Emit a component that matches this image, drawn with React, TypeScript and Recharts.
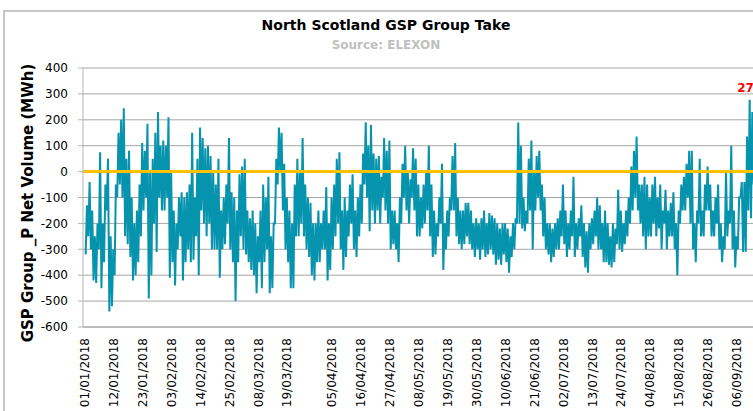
import { LineChart, Line, XAxis, YAxis, CartesianGrid, ReferenceLine, ReferenceDot } from 'recharts';

// daily highs / lows of the half-hourly GSP take (MWh), day 0 = 01/01/2018
const highs = [
  -130, -40, -150, -250, -200, 75, -200, -50, 50, -250,
  -300, -50, 150, 200, 245, 50, 80, -100, -200, -150,
  -50, 110, 80, 185, 0, 50, 150, 230, 100, 120,
  100, 210, 0, -150, -200, -100, -80, -100, -80, -50,
  150, -100, 50, 170, 130, 90, 100, 60, 0, -50,
  50, -150, -100, -50, 130, -80, -100, -150, -10, 20,
  50, -150, -180, -150, -200, -250, -150, -50, -100, -20,
  -250, -200, 50, 170, 150, 30, -100, -150, -200, -50,
  50, 0, 130, -50, -100, -120, -200, -200, -150, -200,
  -150, -60, -200, -100, -50, 50, 75, -150, -100, -150,
  -50, -10, -150, -100, -50, 70, 190, 100, 180, 70,
  50, 60, -20, 130, 80, 120, -150, -150, -200, -100,
  30, 100, 0, -30, 90, 50, -50, -100, -50, 0,
  100, -50, -150, -200, -100, 30, -200, -150, -100, 60,
  110, -100, -150, -150, -120, -120, -150, -200, -180, -200,
  -180, -150, -200, -160, -170, -180, -200, -220, -200, -200,
  -220, -250, -200, -180, 190, 100, -100, -150, 50, 120,
  0, 60, 80, -50, -100, -200, -200, -220, -200, -180,
  -150, -50, -150, -200, -150, -20, -200, -180, -130, -200,
  -230, -200, -180, -150, -100, -130, -200, -150, -200, -250,
  -200, -220, -70, -150, -200, -150, -100, 20, 80, 135,
  -50, -50, -20, -50, -100, -50, -20, -100, -50, -150,
  -70, -150, -120, -80, -200, -150, -50, -20, 30, 80,
  80, -200, -150, 50, -150, -50, 20, -50, -150, -100,
  -50, -200, -250, 0, -150, 100, -150, -250, -100, -40,
  -40, 135, 277, 230, 220,
];

const lows = [
  -320, -250, -300, -420, -430, -300, -450, -350, -150, -540,
  -520, -400, -100, -50, -100, -250, -280, -330, -420, -400,
  -350, -250, -150, -100, -490, -400, -200, -310, -100, -150,
  -150, -100, -410, -350, -440, -300, -250, -420, -350, -300,
  -350, -340, -250, -400, -150, -200, -250, -200, -300, -300,
  -300, -410, -300, -280, -200, -300, -350, -500, -350, -250,
  -300, -320, -350, -380, -400, -470, -350, -450, -350, -300,
  -470, -450, -200, -50, 0, -150, -300, -350, -450, -450,
  -250, -250, -200, -250, -300, -330, -400, -420, -350, -350,
  -300, -300, -420, -380, -300, -250, -200, -300, -380, -330,
  -250, -200, -300, -330, -250, -200, -50, -100, -230, -150,
  -200, -150, -200, -100, -150, -200, -300, -280, -300, -350,
  -200, -100, -150, -200, -100, -150, -250, -250, -220, -200,
  -150, -250, -330, -320, -250, -200, -380, -300, -250, -150,
  -150, -250, -280, -300, -280, -250, -280, -300, -330, -300,
  -340, -300, -330, -320, -300, -320, -360, -340, -360, -320,
  -350, -390, -330, -300, -200, -200, -220, -230, -200, -150,
  -300, -150, -100, -150, -250, -300, -320, -350, -330, -300,
  -300, -250, -280, -330, -300, -250, -330, -300, -250, -330,
  -370, -390, -300, -280, -250, -300, -300, -350, -350, -360,
  -370, -350, -280, -300, -310, -280, -250, -200, -150, -100,
  -150, -200, -250, -300, -250, -250, -200, -250, -220, -300,
  -200, -300, -250, -250, -300, -400, -200, -150, -150, -100,
  -200, -300, -350, -200, -250, -250, -150, -150, -250, -250,
  -200, -300, -350, -300, -250, -200, -300, -370, -300, -100,
  -310, -310, -150, -180, -50,
];

const tickLabels = [
  '01/01/2018', '12/01/2018', '23/01/2018', '03/02/2018', '14/02/2018', '25/02/2018',
  '08/03/2018', '19/03/2018', '05/04/2018', '16/04/2018', '27/04/2018', '08/05/2018',
  '19/05/2018', '30/05/2018', '10/06/2018', '21/06/2018', '02/07/2018', '13/07/2018',
  '24/07/2018', '04/08/2018', '15/08/2018', '26/08/2018', '06/09/2018',
];

const yTicks = [-600, -500, -400, -300, -200, -100, 0, 100, 200, 300, 400];

const peakValue = 277;

const dayOf = (s: string) => {
  const [d, m, y] = s.split('/').map(Number);
  return (Date.UTC(y, m - 1, d) - Date.UTC(2018, 0, 1)) / 86400000;
};
const tickDays = tickLabels.map(dayOf);

const data: { t: number; v: number }[] = [];
highs.forEach((h, i) => {
  data.push({ t: i + 0.25, v: lows[i] });
  data.push({ t: i + 0.75, v: h });
});
const peakPoint = data.reduce((a, b) => (b.v > a.v ? b : a));

const FONT = "'DejaVu Sans', sans-serif";

const XTick = ({ x, y, payload }: any) => {
  const i = tickDays.indexOf(payload.value);
  const ty = y + 3;
  return (
    <text
      x={x}
      y={ty}
      transform={`rotate(-90, ${x}, ${ty})`}
      textAnchor="end"
      dominantBaseline="central"
      fontSize={12}
      fontFamily={FONT}
      fill="#000"
    >
      {tickLabels[i]}
    </text>
  );
};

export default function App() {
  return (
    <div style={{ position: 'absolute', left: 0, top: 0, width: 753, height: 411, overflow: 'hidden', background: '#fff' }}>
      <div style={{ position: 'absolute', left: 3, top: 10, width: 800, height: 450, borderLeft: '2px solid #C8C8C8', borderTop: '2px solid #C8C8C8' }} />
      <div style={{ position: 'absolute', left: 0, width: 772, top: 17, textAlign: 'center', fontFamily: FONT, fontWeight: 'bold', fontSize: 14, color: '#000' }}>
        North Scotland GSP Group Take
      </div>
      <div style={{ position: 'absolute', left: 0, width: 772, top: 38, textAlign: 'center', fontFamily: FONT, fontWeight: 'bold', fontSize: 12, color: '#BFBFBF' }}>
        Source: ELEXON
      </div>
      <div
        style={{
          position: 'absolute', left: 28, top: 203, width: 0, height: 0,
          display: 'flex', alignItems: 'center', justifyContent: 'center',
        }}
      >
        <div style={{ transform: 'rotate(-90deg)', whiteSpace: 'nowrap', fontFamily: FONT, fontWeight: 'bold', fontSize: 15, color: '#000' }}>
          GSP Group _P Net Volume (MWh)
        </div>
      </div>
      <div style={{ position: 'absolute', left: 0, top: 0 }}>
        <LineChart width={800} height={411} data={data} margin={{ top: 68, right: 26, bottom: 4, left: 23 }}>
          <CartesianGrid vertical={false} stroke="#A6A6A6" />
          <XAxis
            dataKey="t"
            type="number"
            domain={[-0.76, 262]}
            ticks={tickDays}
            allowDataOverflow
            height={80}
            tickLine={false}
            axisLine={{ stroke: '#A6A6A6' }}
            tick={<XTick />}
            interval={0}
          />
          <YAxis
            domain={[-600, 400]}
            ticks={yTicks}
            width={60}
            tickSize={5}
            tickMargin={10}
            axisLine={{ stroke: '#B4B4B4' }}
            tickLine={{ stroke: '#B4B4B4' }}
            tick={{ fill: '#000', fontSize: 12, fontFamily: FONT }}
            interval={0}
          />
          <Line
            dataKey="v"
            type="linear"
            stroke="#0693AD"
            strokeWidth={2}
            dot={false}
            activeDot={false}
            isAnimationActive={false}
          />
          <ReferenceLine y={0} stroke="#FFC000" strokeWidth={3} />
          <ReferenceDot
            x={peakPoint.t}
            y={peakValue}
            r={0}
            ifOverflow="visible"
            label={{ value: String(peakValue), position: 'top', offset: 8, fill: '#FF0000', fontWeight: 'bold', fontSize: 12, fontFamily: FONT }}
          />
        </LineChart>
      </div>
    </div>
  );
}
